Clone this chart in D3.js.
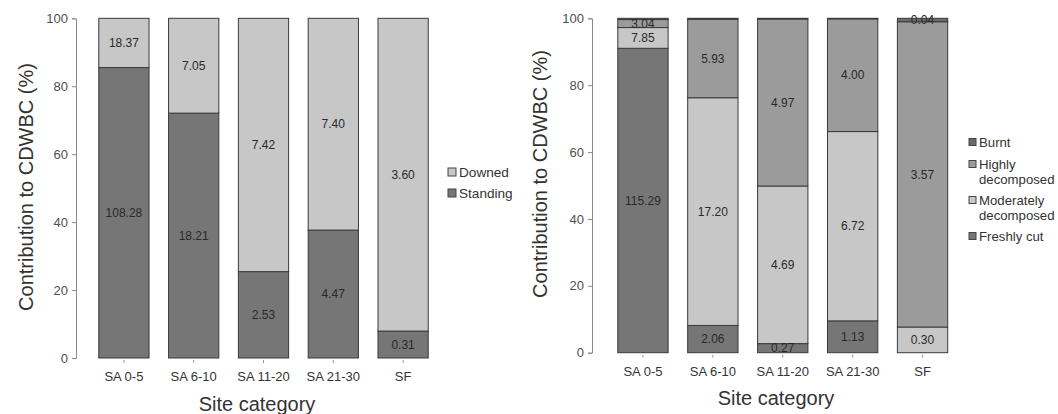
<!DOCTYPE html>
<html>
<head>
<meta charset="utf-8">
<script src="https://cdn.jsdelivr.net/npm/d3@7"></script>
<style>
  html, body { margin: 0; padding: 0; background: #fff; }
  svg { display: block; font-family: "Liberation Sans", Arial, sans-serif; }
</style>
</head>
<body>
<svg id="chart" width="1058" height="414"></svg>
<script>
// Site categories shared by both panels
const categories = ["SA 0-5", "SA 6-10", "SA 11-20", "SA 21-30", "SF"];
const yTicks = [0, 20, 40, 60, 80, 100];

// Panel A: standing vs downed deadwood
const standing = [108.28, 18.21, 2.53, 4.47, 0.31];
const downed   = [18.37, 7.05, 7.42, 7.40, 3.60];

// Panel B: decay classes
const freshlyCut  = [115.29, 2.06, 0.27, 1.13, 0];
const moderately  = [7.85, 17.20, 4.69, 6.72, 0.30];
const highly      = [3.04, 5.93, 4.97, 4.00, 3.57];
const burnt       = [0.47, 0.07, 0.02, 0.02, 0.04];
// which values carry a printed label
const burntLabelled   = [false, false, false, false, true];
const freshLabelled   = [true, true, true, true, false];

const svg = d3.select("#chart");
const FONT = "Liberation Sans, Arial, sans-serif";

function drawPanel(opt) {
  const g = svg.append("g");
  const x = d3.scaleBand().domain(categories).range(opt.xRange)
    .paddingInner(0.28).paddingOuter(0.14);
  const y = d3.scaleLinear().domain([0, 100]).range(opt.yRange);

  // totals per category -> percentage stacks
  const totals = categories.map((c, i) => d3.sum(opt.series, s => s.values[i]));
  const rows = categories.map((c, i) => {
    const r = { cat: c };
    opt.series.forEach(s => { r[s.key] = s.values[i] / totals[i] * 100; });
    return r;
  });
  const stack = d3.stack().keys(opt.series.map(s => s.key))(rows);

  stack.forEach((layer, li) => {
    const s = opt.series[li];
    layer.forEach((d, i) => {
      if (s.values[i] <= 0) return;
      g.append("rect")
        .attr("x", x(categories[i]))
        .attr("width", x.bandwidth())
        .attr("y", y(d[1]))
        .attr("height", y(d[0]) - y(d[1]))
        .attr("fill", s.color)
        .attr("stroke", "#3a3a3a")
        .attr("stroke-width", 1);
    });
  });

  // segment value labels
  stack.forEach((layer, li) => {
    const s = opt.series[li];
    layer.forEach((d, i) => {
      if (s.values[i] <= 0) return;
      if (s.labelled && !s.labelled[i]) return;
      g.append("text")
        .attr("x", x(categories[i]) + x.bandwidth() / 2)
        .attr("y", y((d[0] + d[1]) / 2))
        .attr("dy", "0.35em")
        .attr("text-anchor", "middle")
        .attr("font-size", 12)
        .attr("fill", "#2a2a2a")
        .text(s.values[i].toFixed(2));
    });
  });

  // y axis
  const yAxis = d3.axisLeft(y).tickValues(yTicks).tickSize(4).tickPadding(4);
  const ya = g.append("g").attr("transform", `translate(${opt.axisX},0)`).call(yAxis);
  ya.select(".domain").attr("stroke", "#8a8a8a");
  ya.selectAll(".tick line").attr("stroke", "#8a8a8a");
  ya.selectAll(".tick text").attr("font-size", 13).attr("fill", "#505050")
    .attr("font-family", FONT);

  // x axis: ticks and labels only
  const xAxis = d3.axisBottom(x).tickSize(3).tickPadding(9);
  const xa = g.append("g").attr("transform", `translate(0,${opt.yRange[0] + 2})`).call(xAxis);
  xa.select(".domain").remove();
  xa.selectAll(".tick line").attr("stroke", "#999");
  xa.selectAll(".tick text").attr("font-size", 13).attr("fill", "#333")
    .attr("font-family", FONT);

  // axis titles
  g.append("text")
    .attr("x", opt.xTitleX).attr("y", opt.xTitleY)
    .attr("text-anchor", "middle").attr("font-size", 20).attr("fill", "#333")
    .text("Site category");
  g.append("text")
    .attr("transform", `translate(${opt.yTitleX},${opt.yTitleY}) rotate(-90)`)
    .attr("text-anchor", "middle").attr("font-size", 20).attr("fill", "#333")
    .text("Contribution to CDWBC (%)");

  // legend
  const lg = g.append("g");
  opt.legend.forEach(item => {
    lg.append("rect")
      .attr("x", opt.legendX).attr("y", item.y - opt.box / 2)
      .attr("width", opt.box).attr("height", opt.box)
      .attr("fill", item.color).attr("stroke", "#444").attr("stroke-width", 1);
    item.lines.forEach((t, k) => {
      lg.append("text")
        .attr("x", opt.legendX + opt.box + 3).attr("y", item.y + k * 15)
        .attr("dy", "0.35em").attr("font-size", opt.legendFont).attr("fill", "#333")
        .text(t);
    });
  });
}

const cDark = "#767676", cLight = "#c7c7c7", cMid = "#9b9b9b", cBurnt = "#6a6a6a";

drawPanel({
  xRange: [89, 438],
  yRange: [358, 18.3],
  axisX: 76,
  xTitleX: 257,
  xTitleY: 411,
  yTitleX: 33,
  yTitleY: 187,
  series: [
    { key: "standing", values: standing, color: cDark },
    { key: "downed", values: downed, color: cLight }
  ],
  legendX: 448,
  box: 8,
  legendFont: 13.6,
  legend: [
    { lines: ["Downed"], color: cLight, y: 172 },
    { lines: ["Standing"], color: cDark, y: 193 }
  ]
});

drawPanel({
  xRange: [608, 957.5],
  yRange: [352.7, 18.3],
  axisX: 592,
  xTitleX: 776,
  xTitleY: 405,
  yTitleX: 547,
  yTitleY: 174,
  series: [
    { key: "fresh", values: freshlyCut, color: cDark, labelled: freshLabelled },
    { key: "moderate", values: moderately, color: cLight },
    { key: "high", values: highly, color: cMid },
    { key: "burnt", values: burnt, color: cBurnt, labelled: burntLabelled }
  ],
  legendX: 969,
  box: 7,
  legendFont: 13.2,
  legend: [
    { lines: ["Burnt"], color: cBurnt, y: 142 },
    { lines: ["Highly", "decomposed"], color: cMid, y: 164 },
    { lines: ["Moderately", "decomposed"], color: cLight, y: 200 },
    { lines: ["Freshly cut"], color: cDark, y: 236 }
  ]
});
</script>
</body>
</html>
